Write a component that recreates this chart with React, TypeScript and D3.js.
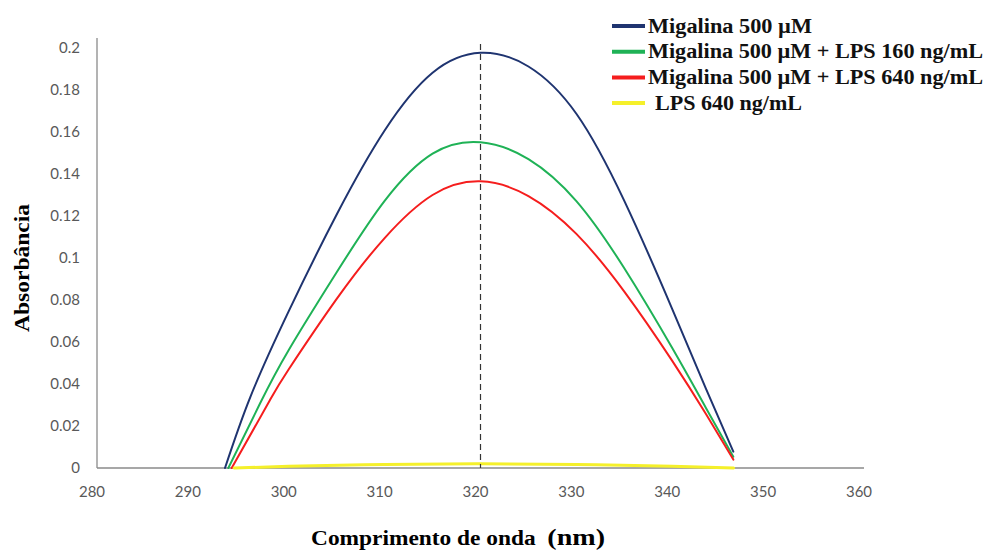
import React from "react";
import * as d3 from "d3";

const xTicks = [280, 290, 300, 310, 320, 330, 340, 350, 360];
const yTicks = [0, 0.02, 0.04, 0.06, 0.08, 0.1, 0.12, 0.14, 0.16, 0.18, 0.2];
const yTickLabels = ["0", "0.02", "0.04", "0.06", "0.08", "0.1", "0.12", "0.14", "0.16", "0.18", "0.2"];

const blueX = [293.35, 296, 300, 305, 310, 315, 320, 325, 330, 335, 340, 343.5, 346.37];
const blueY = [0, 0.0339, 0.0747, 0.1207, 0.1607, 0.1882, 0.1977, 0.1912, 0.1687, 0.1272, 0.0757, 0.0379, 0.0078];

const greenX = [293.7, 297, 300, 305, 310, 315, 320, 325, 330, 335, 340, 343.5, 346.37];
const greenY = [0, 0.0307, 0.0562, 0.0932, 0.1272, 0.1497, 0.1551, 0.1471, 0.1271, 0.0951, 0.0571, 0.0287, 0.0054];

const redX = [294.05, 298, 300, 305, 310, 315, 320, 325, 330, 335, 340, 343.5, 346.37];
const redY = [0, 0.032, 0.047, 0.0805, 0.1095, 0.13, 0.1365, 0.1295, 0.1115, 0.084, 0.051, 0.0258, 0.004];

const yellowX = [294.3, 300, 310, 320, 330, 340, 346.4];
const yellowY = [0, 0.0008, 0.0017, 0.002, 0.0017, 0.0008, 0];

const seriesNames = [
  "Migalina 500 µM",
  "Migalina 500 µM + LPS 160 ng/mL",
  "Migalina 500 µM + LPS 640 ng/mL",
  "LPS 640 ng/mL",
];
const seriesColors = ["#1f3470", "#1fb256", "#f51d1d", "#f5f02a"];
const seriesX = [blueX, greenX, redX, yellowX];
const seriesY = [blueY, greenY, redY, yellowY];
const peakX = 320;

const legendTextX = [648, 648, 648, 655];
const legendTextLen = [164, 335, 335, 147];

export default function App() {
  const W = 987, H = 551;
  const x = d3.scaleLinear().domain([280, 360]).range([97, 864]);
  const y = d3.scaleLinear().domain([0, 0.2]).range([468, 48]);
  const line = d3
    .line<[number, number]>()
    .x((d) => x(d[0]))
    .y((d) => y(d[1]))
    .curve(d3.curveNatural);

  const serif = "'Liberation Serif', 'Times New Roman', serif";
  const sans = "Lato, 'Open Sans', sans-serif";

  return (
    <svg width={W} height={H} style={{ position: "absolute", left: 0, top: 0, background: "#fff" }}>
      {/* axes */}
      <line x1={x(280)} x2={x(280)} y1={38} y2={y(0)} stroke="#8a8a8a" strokeWidth={1.3} />
      <line x1={x(280)} x2={x(360)} y1={y(0)} y2={y(0)} stroke="#8a8a8a" strokeWidth={1.3} />

      {yTicks.map((t, i) => (
        <text key={"y" + i} x={80} y={y(t)} dy="0.35em" textAnchor="end" fontFamily={sans} fontSize={15} fill="#595959">
          {yTickLabels[i]}
        </text>
      ))}
      {xTicks.map((t) => (
        <text key={"x" + t} x={x(t) - 5} y={497} textAnchor="middle" fontFamily={sans} fontSize={15} fill="#595959">
          {t}
        </text>
      ))}

      {/* series */}
      {seriesX.map((xs, i) => {
        const pts = xs.map((v, j) => [v, seriesY[i][j]] as [number, number]);
        return (
          <path
            key={"s" + i}
            d={line(pts) || ""}
            fill="none"
            stroke={seriesColors[i]}
            strokeWidth={i === 3 ? 3 : 2}
            strokeLinecap="round"
          />
        );
      })}

      {/* dashed peak line */}
      <line x1={x(peakX)} x2={x(peakX)} y1={44} y2={y(0)} stroke="#333" strokeWidth={1.2} strokeDasharray="6,4" />

      {/* axis titles */}
      <text
        transform={`translate(29,268) rotate(-90)`}
        textAnchor="middle"
        fontFamily={serif}
        fontWeight="bold"
        fontSize={20}
        fill="#000"
        textLength={128}
        lengthAdjust="spacingAndGlyphs"
      >
        Absorbância
      </text>
      <text
        x={311}
        y={545}
        fontFamily={serif}
        fontWeight="bold"
        fontSize={20}
        fill="#000"
        textLength={294}
        lengthAdjust="spacingAndGlyphs"
        style={{ whiteSpace: "pre" }}
      >
        {"Comprimento de onda  "}
        <tspan fontSize={24}>(nm)</tspan>
      </text>

      {/* legend */}
      {seriesNames.map((n, i) => (
        <g key={"l" + i} transform={`translate(0,${26 + i * 25.7})`}>
          <line x1={612} x2={645} y1={0} y2={0} stroke={seriesColors[i]} strokeWidth={4} />
          <text
            x={legendTextX[i]}
            y={0}
            dy="0.33em"
            fontFamily={serif}
            fontWeight="bold"
            fontSize={20}
            fill="#111"
            textLength={legendTextLen[i]}
            lengthAdjust="spacingAndGlyphs"
          >
            {n}
          </text>
        </g>
      ))}
    </svg>
  );
}
